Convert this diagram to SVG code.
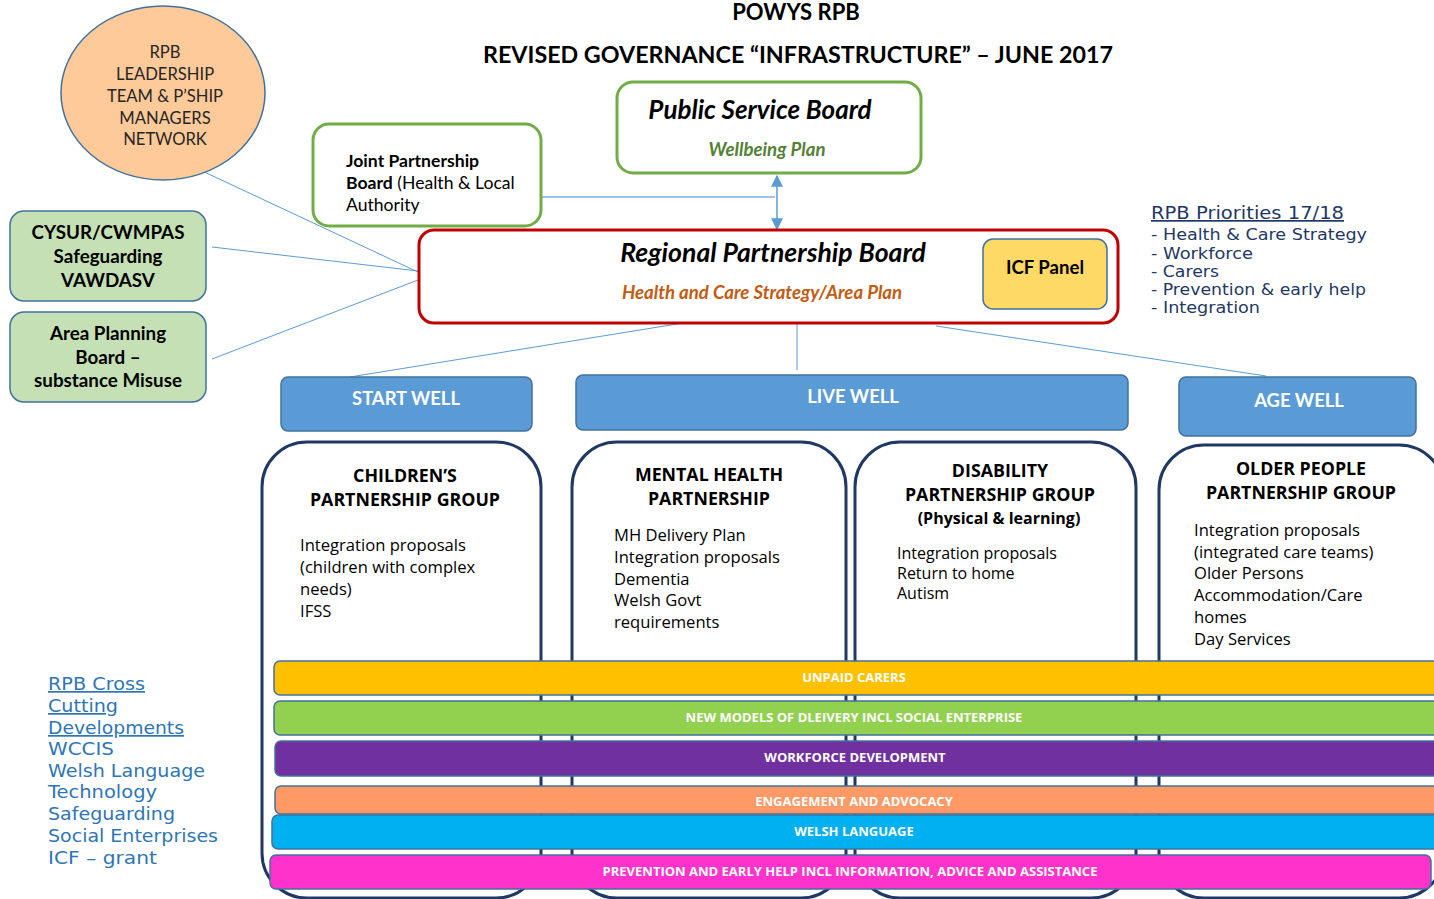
<svg xmlns="http://www.w3.org/2000/svg" width="1434" height="899" viewBox="0 0 1434 899">
<defs>
<style>
.t{font-family:"Lato","Open Sans","Liberation Sans",sans-serif;}
.o{font-family:"Open Sans","Liberation Sans",sans-serif;}
.v{font-family:"DejaVu Sans","Liberation Sans",sans-serif;}
.b{font-weight:700;}
.i{font-style:italic;}
.conn{stroke:#5B9BD5;stroke-width:1;fill:none;}
.col{fill:#fff;stroke:#1F3864;stroke-width:3;}
.hdr{fill:#5B9BD5;stroke:#41719C;stroke-width:1.5;}
.hdrt{fill:#fff;font-size:18.4px;font-weight:700;text-anchor:middle;}
.band{stroke:#41719C;stroke-width:1.5;}
.bandt{fill:#fff;font-size:13px;font-weight:700;text-anchor:middle;}
.gbox{fill:#C5E0B4;stroke:#41719C;stroke-width:1.5;}
.gt{font-size:18.8px;font-weight:700;text-anchor:middle;fill:#000;}
.body{font-size:16.6px;fill:#000;}
.colh{font-size:17.8px;font-weight:700;text-anchor:middle;fill:#000;}
</style>
<marker id="ah" viewBox="0 0 10 10" refX="9" refY="5" markerWidth="8" markerHeight="8" orient="auto-start-reverse">
<path d="M0,0 L10,5 L0,10 z" fill="#5B9BD5"/>
</marker>
</defs>
<rect width="1434" height="899" fill="#fff"/>

<g id="title">
<text class="t b" x="796" y="20" font-size="22" text-anchor="middle">POWYS RPB</text>
<text class="t b" x="798" y="63" font-size="22" text-anchor="middle" textLength="630" lengthAdjust="spacingAndGlyphs">REVISED GOVERNANCE “INFRASTRUCTURE” – JUNE 2017</text>
</g>

<g id="connectors">
<line class="conn" x1="200" y1="170" x2="418" y2="272"/>
<line class="conn" x1="212" y1="247" x2="418" y2="271"/>
<line class="conn" x1="212" y1="359" x2="418" y2="280"/>
<line x1="542" y1="197" x2="775" y2="197" stroke="#9DC3E6" stroke-width="2"/>
<line x1="777" y1="176" x2="777" y2="229" stroke="#5B9BD5" stroke-width="1.5" marker-start="url(#ah)" marker-end="url(#ah)"/>
<line class="conn" x1="683" y1="323" x2="350" y2="377"/>
<line class="conn" x1="797" y1="323" x2="797" y2="370"/>
<line class="conn" x1="936" y1="326" x2="1266" y2="376"/>
</g>

<g id="leadership">
<ellipse cx="163" cy="93" rx="102" ry="87" fill="#FFCA99" stroke="#41719C" stroke-width="1.5"/>
<g class="t" font-size="16.6" fill="#262626" text-anchor="middle">
<text x="165" y="58">RPB</text>
<text x="165" y="80">LEADERSHIP</text>
<text x="165" y="102">TEAM &amp; P’SHIP</text>
<text x="165" y="124">MANAGERS</text>
<text x="165" y="145">NETWORK</text>
</g>
</g>

<g id="cysur">
<rect class="gbox" x="10" y="211" width="196" height="90" rx="14"/>
<text class="t gt" x="108" y="239">CYSUR/CWMPAS</text>
<text class="t gt" x="108" y="263">Safeguarding</text>
<text class="t gt" x="108" y="287">VAWDASV</text>
</g>

<g id="area-planning">
<rect class="gbox" x="10" y="312" width="196" height="90" rx="14"/>
<text class="t gt" x="108" y="340">Area Planning</text>
<text class="t gt" x="108" y="364">Board –</text>
<text class="t gt" x="108" y="387">substance Misuse</text>
</g>

<g id="joint-partnership">
<rect x="313" y="124" width="228" height="102" rx="16" fill="#fff" stroke="#70AD47" stroke-width="3"/>
<g class="t" font-size="17.6" fill="#000">
<text class="b" x="346" y="167">Joint Partnership</text>
<text x="346" y="189"><tspan font-weight="700">Board</tspan> (Health &amp; Local</text>
<text x="346" y="211">Authority</text>
</g>
</g>

<g id="public-service-board">
<rect x="617" y="82" width="304" height="91" rx="16" fill="#fff" stroke="#70AD47" stroke-width="3"/>
<text class="t b i" x="760" y="119" font-size="26" text-anchor="middle">Public Service Board</text>
<text class="t b i" x="767" y="156" font-size="18.6" fill="#538135" text-anchor="middle">Wellbeing Plan</text>
</g>

<g id="rpb">
<rect x="419" y="230" width="699" height="93" rx="15" fill="#fff" stroke="#C00000" stroke-width="3"/>
<text class="t b i" x="773" y="262" font-size="26.6" text-anchor="middle">Regional Partnership Board</text>
<text class="t b i" x="762" y="299" font-size="18.6" fill="#C55A11" text-anchor="middle">Health and Care Strategy/Area Plan</text>
</g>

<g id="icf-panel">
<rect x="983" y="239" width="124" height="70" rx="10" fill="#FFD966" stroke="#41719C" stroke-width="1.5"/>
<text class="t b" x="1045" y="274" font-size="18.6" text-anchor="middle">ICF Panel</text>
</g>

<g id="priorities" class="v" fill="#1F3864" font-size="16">
<text x="1151" y="219" font-size="17" text-decoration="underline" textLength="193" lengthAdjust="spacingAndGlyphs">RPB Priorities 17/18</text>
<text x="1151" y="240" textLength="216" lengthAdjust="spacingAndGlyphs">-  Health &amp; Care Strategy</text>
<text x="1151" y="259" textLength="102" lengthAdjust="spacingAndGlyphs">- Workforce</text>
<text x="1151" y="277" textLength="68" lengthAdjust="spacingAndGlyphs">- Carers</text>
<text x="1151" y="295" textLength="215" lengthAdjust="spacingAndGlyphs">- Prevention &amp; early help</text>
<text x="1151" y="313" textLength="109" lengthAdjust="spacingAndGlyphs">- Integration</text>
</g>

<g id="start-well">
<rect class="hdr" x="281" y="377" width="251" height="54" rx="7"/>
<text class="t hdrt" x="406" y="405">START WELL</text>
</g>
<g id="live-well">
<rect class="hdr" x="576" y="375" width="552" height="55" rx="7"/>
<text class="t hdrt" x="853" y="403">LIVE WELL</text>
</g>
<g id="age-well">
<rect class="hdr" x="1179" y="377" width="237" height="59" rx="7"/>
<text class="t hdrt" x="1299" y="407">AGE WELL</text>
</g>

<g id="childrens">
<rect class="col" x="262" y="442" width="279" height="456" rx="45"/>
<text class="o colh" x="405" y="482">CHILDREN’S</text>
<text class="o colh" x="405" y="506">PARTNERSHIP GROUP</text>
<g class="o body">
<text x="300" y="551">Integration proposals</text>
<text x="300" y="573">(children with complex</text>
<text x="300" y="595">needs)</text>
<text x="300" y="617">IFSS</text>
</g>
</g>

<g id="mental-health">
<rect class="col" x="572" y="442" width="274" height="456" rx="45"/>
<text class="o colh" x="709" y="481">MENTAL HEALTH</text>
<text class="o colh" x="709" y="505">PARTNERSHIP</text>
<g class="o body">
<text x="614" y="541">MH Delivery Plan</text>
<text x="614" y="563">Integration proposals</text>
<text x="614" y="585">Dementia</text>
<text x="614" y="606">Welsh Govt</text>
<text x="614" y="628">requirements</text>
</g>
</g>

<g id="disability">
<rect class="col" x="855" y="442" width="281" height="456" rx="45"/>
<text class="o colh" x="1000" y="477">DISABILITY</text>
<text class="o colh" x="1000" y="501">PARTNERSHIP GROUP</text>
<text class="o" x="999" y="524" font-size="16" font-weight="700" text-anchor="middle">(Physical &amp; learning)</text>
<g class="o" font-size="16" fill="#000">
<text x="897" y="559">Integration proposals</text>
<text x="897" y="579">Return to home</text>
<text x="897" y="599">Autism</text>
</g>
</g>

<g id="older-people">
<rect class="col" x="1159" y="445" width="285" height="453" rx="45"/>
<text class="o colh" x="1301" y="475">OLDER PEOPLE</text>
<text class="o colh" x="1301" y="499">PARTNERSHIP GROUP</text>
<g class="o body">
<text x="1194" y="536">Integration proposals</text>
<text x="1194" y="558">(integrated care teams)</text>
<text x="1194" y="579">Older Persons</text>
<text x="1194" y="601">Accommodation/Care</text>
<text x="1194" y="623">homes</text>
<text x="1194" y="645">Day Services</text>
</g>
</g>

<g id="band-unpaid-carers">
<rect class="band" x="274" y="661" width="1165" height="34" rx="6" fill="#FFC000"/>
<text class="o bandt" x="854" y="682">UNPAID CARERS</text>
</g>
<g id="band-new-models">
<rect class="band" x="274" y="701" width="1165" height="34" rx="6" fill="#92D050"/>
<text class="o bandt" x="854" y="722">NEW MODELS OF DLEIVERY INCL SOCIAL ENTERPRISE</text>
</g>
<g id="band-workforce">
<rect class="band" x="275" y="741" width="1164" height="35" rx="6" fill="#7030A0"/>
<text class="o bandt" x="855" y="762">WORKFORCE DEVELOPMENT</text>
</g>
<g id="band-engagement">
<rect class="band" x="275" y="786" width="1164" height="28" rx="6" fill="#FF9966"/>
<text class="o bandt" x="854" y="806">ENGAGEMENT AND ADVOCACY</text>
</g>
<g id="band-welsh">
<rect class="band" x="272" y="815" width="1167" height="34" rx="6" fill="#00B0F0"/>
<text class="o bandt" x="854" y="836">WELSH LANGUAGE</text>
</g>
<g id="band-prevention">
<rect class="band" x="270" y="855" width="1161" height="34" rx="6" fill="#FF33CC"/>
<text class="o bandt" x="850" y="876">PREVENTION AND EARLY HELP INCL INFORMATION, ADVICE AND ASSISTANCE</text>
</g>

<g id="cross-cutting" class="v" fill="#2E75B6" font-size="17">
<text x="48" y="690" text-decoration="underline" textLength="97" lengthAdjust="spacingAndGlyphs">RPB Cross</text>
<text x="48" y="712" text-decoration="underline" textLength="70" lengthAdjust="spacingAndGlyphs">Cutting</text>
<text x="48" y="734" text-decoration="underline" textLength="136" lengthAdjust="spacingAndGlyphs">Developments</text>
<text x="48" y="755" textLength="66" lengthAdjust="spacingAndGlyphs">WCCIS</text>
<text x="48" y="777" textLength="157" lengthAdjust="spacingAndGlyphs">Welsh Language</text>
<text x="48" y="798" textLength="109" lengthAdjust="spacingAndGlyphs">Technology</text>
<text x="48" y="820" textLength="127" lengthAdjust="spacingAndGlyphs">Safeguarding</text>
<text x="48" y="842" textLength="170" lengthAdjust="spacingAndGlyphs">Social Enterprises</text>
<text x="48" y="864" textLength="109" lengthAdjust="spacingAndGlyphs">ICF – grant</text>
</g>
</svg>
